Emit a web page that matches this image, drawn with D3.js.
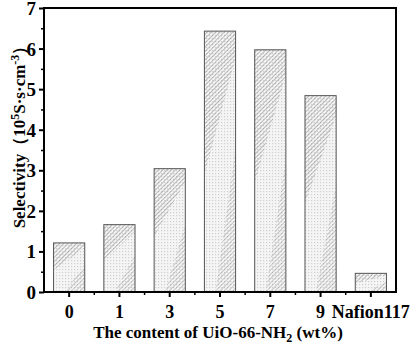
<!DOCTYPE html>
<html>
<head>
<meta charset="utf-8">
<script src="https://cdn.jsdelivr.net/npm/d3@7"></script>
<style>
  body { margin: 0; background: #fff; }
  text { font-family: "Liberation Serif", "Times New Roman", serif; font-weight: bold; fill: #000; }
</style>
</head>
<body>
<div id="chart"></div>
<script>
var categories = ["0", "1", "3", "5", "7", "9", "Nafion117"];
var selectivity = [1.21, 1.66, 3.04, 6.43, 5.97, 4.84, 0.46];
var yTicks = [0, 1, 2, 3, 4, 5, 6, 7];

var W = 420, H = 347;
var margin = {top: 8, right: 24, bottom: 55, left: 44},
    width = W - margin.left - margin.right,
    height = H - margin.top - margin.bottom;

var svg = d3.select("#chart").append("svg")
    .attr("width", W)
    .attr("height", H);

var defs = svg.append("defs");

// dotted light background
var dots = defs.append("pattern")
    .attr("id", "dots")
    .attr("patternUnits", "userSpaceOnUse")
    .attr("width", 3).attr("height", 3);
dots.append("rect").attr("width", 3).attr("height", 3).attr("fill", "#f5f5f5");
dots.append("rect").attr("width", 1.2).attr("height", 1.2).attr("fill", "#cfcfcf");

// diagonal hatch
var hatch = defs.append("pattern")
    .attr("id", "hatch")
    .attr("patternUnits", "userSpaceOnUse")
    .attr("width", 3).attr("height", 3)
    .attr("patternTransform", "rotate(45)");
hatch.append("line")
    .attr("x1", 0).attr("y1", 0).attr("x2", 0).attr("y2", 3)
    .attr("stroke", "#8a8a8a").attr("stroke-width", 1.1);

var g = svg.append("g")
    .attr("transform", "translate(" + margin.left + "," + margin.top + ")");

var x = d3.scaleBand()
    .domain(categories)
    .range([0, width])
    .paddingInner(0.38)
    .paddingOuter(0.19);

var y = d3.scaleLinear()
    .domain([0, 7])
    .range([height, 0]);

var bars = g.selectAll(".bar")
    .data(selectivity)
  .enter().append("g")
    .attr("class", "bar");

bars.append("rect")
    .attr("x", function(d, i) { return x(categories[i]); })
    .attr("y", function(d) { return y(d); })
    .attr("width", x.bandwidth())
    .attr("height", function(d) { return height - y(d); })
    .attr("fill", "url(#dots)");

// hatch over the upper-left part of each bar
bars.append("path")
    .attr("d", function(d, i) {
      var x0 = x(categories[i]), x1 = x0 + x.bandwidth();
      var y0 = y(d), y1 = height;
      var ym = Math.min(y1, y0 + (y1 - y0) * 0.55);
      return "M" + x0 + "," + y0 + "L" + x1 + "," + y0 + "L" + x1 + "," + (y0 + (y1 - y0) * 0.1) +
             "L" + x0 + "," + ym + "Z";
    })
    .attr("fill", "url(#hatch)");

bars.append("path")
    .attr("d", function(d, i) {
      var x0 = x(categories[i]), x1 = x0 + x.bandwidth();
      var y0 = y(d), y1 = height;
      return "M" + x1 + "," + (y0 + (y1 - y0) * 0.45) + "L" + x1 + "," + y1 +
             "L" + (x0 + x.bandwidth() * 0.35) + "," + y1 + "Z";
    })
    .attr("fill", "url(#hatch)")
    .attr("opacity", 0.8);

bars.append("rect")
    .attr("x", function(d, i) { return x(categories[i]); })
    .attr("y", function(d) { return y(d); })
    .attr("width", x.bandwidth())
    .attr("height", function(d) { return height - y(d); })
    .attr("fill", "none")
    .attr("stroke", "#555")
    .attr("stroke-width", 1);

// frame
g.append("rect")
    .attr("width", width)
    .attr("height", height)
    .attr("fill", "none")
    .attr("stroke", "#000")
    .attr("stroke-width", 2);

// y axis
var yAxis = g.append("g")
    .call(d3.axisLeft(y).tickValues(yTicks).tickFormat(d3.format("d")).tickSize(5).tickPadding(3));
yAxis.select(".domain").remove();
yAxis.selectAll(".tick line").attr("stroke-width", 2);
yAxis.selectAll("text").style("font-size", "19px").attr("dy", "0.34em");

var yMinor = g.append("g")
    .call(d3.axisLeft(y).tickValues(d3.range(0.5, 7, 1)).tickFormat("").tickSize(3));
yMinor.select(".domain").remove();
yMinor.selectAll(".tick line").attr("stroke-width", 1.5);

// x axis
var xAxis = g.append("g")
    .attr("transform", "translate(0," + height + ")")
    .call(d3.axisBottom(x).tickSize(5).tickPadding(8));
xAxis.select(".domain").remove();
xAxis.selectAll(".tick line").attr("stroke-width", 2);
xAxis.selectAll("text").style("font-size", "18px");

g.append("g")
    .attr("transform", "translate(0," + height + ")")
    .selectAll("line")
    .data(categories.slice(1))
  .enter().append("line")
    .attr("x1", function(c) { return x(c) + x.bandwidth() / 2 - x.step() / 2; })
    .attr("x2", function(c) { return x(c) + x.bandwidth() / 2 - x.step() / 2; })
    .attr("y1", 0).attr("y2", 3)
    .attr("stroke", "#000").attr("stroke-width", 1.5);

// axis titles
var xl = svg.append("text")
    .attr("x", margin.left + width / 2 - 2)
    .attr("y", 338)
    .attr("text-anchor", "middle")
    .style("font-size", "17px");
xl.append("tspan").text("The content of UiO-66-NH");
xl.append("tspan").attr("dy", 4).style("font-size", "12px").text("2");
xl.append("tspan").attr("dy", -4).text(" (wt%)");

var yl = svg.append("text")
    .attr("transform", "translate(25," + 133 + ") rotate(-90)")
    .attr("text-anchor", "middle")
    .style("font-size", "17px");
yl.append("tspan").text("Selectivity（10");
yl.append("tspan").attr("dy", -6).style("font-size", "12px").text("5");
yl.append("tspan").attr("dy", 6).text("S·s·cm");
yl.append("tspan").attr("dy", -6).style("font-size", "12px").text("-3");
yl.append("tspan").attr("dy", 6).text("）");
</script>
</body>
</html>
